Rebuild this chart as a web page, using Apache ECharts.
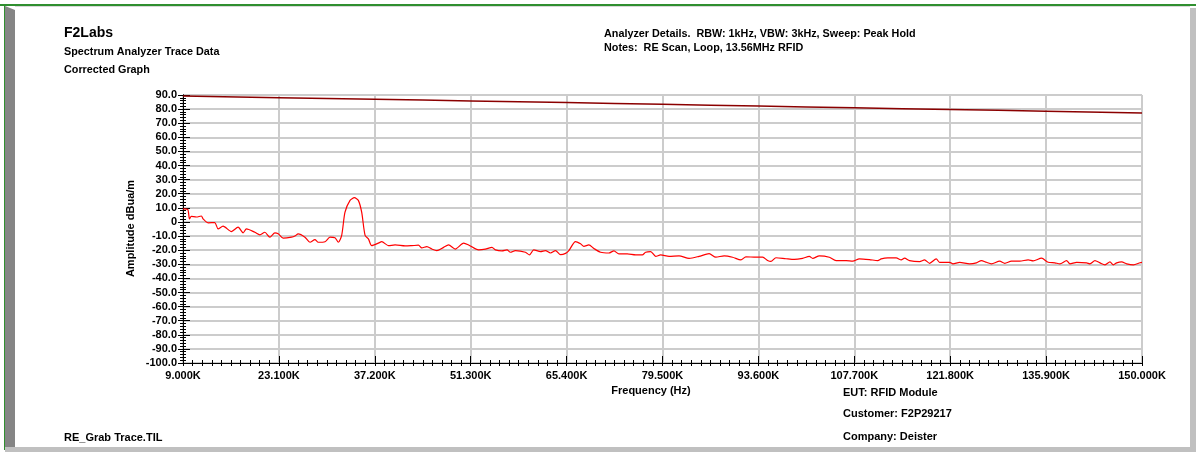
<!DOCTYPE html>
<html>
<head>
<meta charset="utf-8">
<script src="https://cdn.jsdelivr.net/npm/echarts@6/dist/echarts.min.js"></script>
<style>
html,body{margin:0;padding:0;background:#fff;}
#chart{width:1196px;height:452px;}
</style>
</head>
<body>
<div id="chart"></div>
<script>
// ---- Data (frequency in kHz, amplitude in dBuA/m) ----
const traceFreqK = [
  9.00, 9.70, 9.95, 10.23, 10.96, 11.70, 11.95, 12.68, 13.67, 14.16, 14.89, 16.12, 17.10, 17.84, 18.33,
  19.56, 20.30, 21.03, 21.77, 22.51, 23.00, 23.73, 24.96, 25.45, 25.94, 26.93, 27.67, 28.40, 28.89, 29.88,
  30.61, 31.35, 31.84, 32.33, 32.82, 33.56, 34.20, 34.78, 35.27, 35.77, 36.26, 36.75, 37.73, 38.22, 39.21,
  40.19, 41.67, 42.64, 43.62, 44.11, 44.85, 45.59, 46.32, 47.31, 48.04, 49.03, 50.26, 51.00, 52.47, 53.45,
  54.43, 54.93, 55.90, 56.64, 57.14, 57.87, 59.35, 59.94, 60.57, 61.56, 62.29, 63.03, 63.77, 64.51, 65.24,
  65.73, 66.71, 67.45, 67.94, 68.67, 69.41, 70.40, 71.62, 72.36, 73.09, 74.32, 75.55, 76.53, 77.02, 77.76,
  78.50, 79.23, 80.46, 81.93, 83.41, 84.88, 86.36, 87.34, 88.57, 89.80, 91.03, 91.76, 93.24, 94.22, 94.95,
  95.44, 96.18, 97.65, 98.88, 100.10, 101.09, 101.58, 102.56, 104.03, 105.02, 106.49, 107.47, 108.45, 109.93, 111.15,
  111.65, 112.63, 113.86, 114.60, 115.09, 115.82, 117.30, 118.03, 118.77, 119.75, 120.24, 121.72, 122.20, 123.19, 124.66,
  125.65, 126.39, 127.12, 127.86, 129.08, 129.82, 130.81, 132.03, 133.26, 134.00, 135.23, 136.20, 137.19, 137.93, 138.91,
  139.40, 140.39, 141.86, 142.35, 143.08, 143.82, 144.56, 145.29, 145.78, 146.28, 147.01, 147.75, 148.73, 149.71, 150.00
];
const traceAmp = [
  9.2, 8.8, 2.2, 3.9, 3.5, 4.2, 2.2, -0.6, -0.5, -4.9, -3.0, -6.8, -3.7, -7.7, -4.9,
  -7.3, -9.1, -7.3, -10.8, -7.7, -8.4, -11.5, -10.8, -10.0, -8.4, -10.8, -14.4, -12.5, -14.4, -14.0,
  -10.8, -11.2, -14.4, -9.5, 6.9, 15.3, 17.2, 15.3, 6.9, -9.5, -12.0, -16.8, -15.0, -14.0, -16.8,
  -16.3, -17.0, -16.8, -16.5, -18.4, -17.5, -19.2, -20.3, -18.0, -16.3, -19.2, -15.0, -16.3, -19.8, -19.3,
  -18.0, -19.8, -20.5, -19.8, -21.5, -20.3, -21.5, -23.4, -19.8, -21.0, -20.3, -22.0, -20.3, -23.2, -22.3,
  -20.3, -13.9, -15.5, -17.3, -16.3, -18.8, -21.5, -22.0, -20.5, -22.7, -22.7, -23.4, -23.4, -21.5, -21.0,
  -24.4, -23.4, -24.4, -24.0, -25.8, -24.4, -22.5, -25.0, -24.0, -25.0, -26.9, -24.7, -25.0, -25.0, -27.3,
  -28.0, -25.4, -26.1, -26.6, -25.8, -24.4, -25.8, -24.0, -25.0, -27.4, -27.4, -27.8, -26.2, -26.7, -27.4,
  -26.2, -25.5, -25.5, -26.9, -25.7, -27.4, -28.1, -26.9, -29.3, -26.2, -28.6, -28.6, -29.7, -28.6, -29.7,
  -29.0, -27.4, -28.6, -29.7, -27.8, -29.3, -27.8, -27.8, -26.9, -27.6, -25.7, -28.6, -29.0, -29.7, -27.4,
  -29.7, -28.6, -29.0, -29.7, -27.4, -29.0, -30.4, -28.3, -30.4, -29.0, -28.3, -29.7, -30.4, -28.9, -28.6
];
const limitFreqK = [9.0, 23.1, 37.2, 51.3, 65.4, 79.5, 93.6, 107.7, 121.8, 135.9, 150.0];
const limitAmp   = [89.3, 88.1, 87.0, 85.8, 84.6, 83.4, 82.2, 80.9, 79.7, 78.5, 77.3];
const xMin = 9.0, xMax = 150.0, xStep = 14.1;
const yMin = -100, yMax = 90, yStep = 10;

const titleLines = ['F2Labs', 'Spectrum Analyzer Trace Data', 'Corrected Graph'];
const noteLines = ['Analyzer Details.  RBW: 1kHz, VBW: 3kHz, Sweep: Peak Hold', 'Notes:  RE Scan, Loop, 13.56MHz RFID'];
const infoLines = ['EUT: RFID Module', 'Customer: F2P29217', 'Company: Deister'];
const fileName = 'RE_Grab Trace.TIL';
const xName = 'Frequency (Hz)';
const yName = 'Amplitude dBua/m';

// ---- Chart ----
const FONT = '"Liberation Sans", Arial, Helvetica, sans-serif';
const chart = echarts.init(document.getElementById('chart'), null, {renderer: 'canvas'});

const GL = 183, GT = 95, GW = 959, GH = 268;

function txt(x, y, s, size, align) {
  return {
    type: 'text', x: x, y: y, z: 10,
    style: {text: s, fontFamily: FONT, fontWeight: 'bold', fontSize: size, fill: '#000',
            textVerticalAlign: 'middle', textAlign: align || 'left'}
  };
}

const baseX = {
  type: 'value', min: xMin, max: xMax, interval: xStep,
  axisLine: {show: true, onZero: false, lineStyle: {color: '#000', width: 1}},
  splitLine: {show: false}, minorSplitLine: {show: false}
};
const baseY = {
  type: 'value', min: yMin, max: yMax, interval: yStep,
  axisLine: {show: true, onZero: false, lineStyle: {color: '#000', width: 1}},
  splitLine: {show: false}, minorSplitLine: {show: false}
};

const option = {
  backgroundColor: '#fff',
  animation: false,
  grid: {left: GL, top: GT, width: GW, height: GH, containLabel: false},
  xAxis: [
    Object.assign({}, baseX, {
      position: 'bottom',
      axisTick: {show: true, inside: false, length: 3, lineStyle: {color: '#000'}},
      minorTick: {show: true, splitNumber: 10, length: 3, lineStyle: {color: '#000'}},
      axisLabel: {show: true, margin: 7, color: '#000', fontFamily: FONT, fontWeight: 'bold', fontSize: 11,
        formatter: v => v.toFixed(3) + 'K'},
      splitLine: {show: true, lineStyle: {color: '#cccccc', width: 2}}
    }),
    Object.assign({}, baseX, {
      position: 'bottom',
      axisTick: {show: true, inside: true, length: 7, lineStyle: {color: '#000'}},
      minorTick: {show: true, splitNumber: 10, length: 3, lineStyle: {color: '#000'}},
      axisLabel: {show: false}
    })
  ],
  yAxis: [
    Object.assign({}, baseY, {
      position: 'left',
      axisTick: {show: true, inside: false, length: 5, lineStyle: {color: '#000'}},
      minorTick: {show: true, splitNumber: 5, length: 3, lineStyle: {color: '#000'}},
      axisLabel: {show: true, margin: 6, color: '#000', fontFamily: FONT, fontWeight: 'bold', fontSize: 11,
        formatter: v => v === 0 ? '0' : v.toFixed(1)},
      splitLine: {show: true, lineStyle: {color: '#cccccc', width: 2}}
    }),
    Object.assign({}, baseY, {
      position: 'left',
      axisTick: {show: true, inside: true, length: 7, lineStyle: {color: '#000'}},
      minorTick: {show: true, splitNumber: 5, length: 3, lineStyle: {color: '#000'}},
      axisLabel: {show: false}
    })
  ],
  series: [
    {
      type: 'line', xAxisIndex: 0, yAxisIndex: 0, showSymbol: false, smooth: 0.3,
      data: limitFreqK.map((f, i) => [f, limitAmp[i]]),
      lineStyle: {color: '#8b0000', width: 1.5}, z: 5
    },
    {
      type: 'line', xAxisIndex: 0, yAxisIndex: 0, showSymbol: false, smooth: 0.25,
      data: traceFreqK.map((f, i) => [f, traceAmp[i]]),
      lineStyle: {color: '#ff0000', width: 1.2}, z: 6
    }
  ],
  graphic: [
    // frame
    {type: 'rect', shape: {x: 0, y: 4, width: 1196, height: 2}, style: {fill: '#2f8f2f'}, z: 1},
    {type: 'rect', shape: {x: 4, y: 4, width: 1, height: 446}, style: {fill: '#2f8f2f'}, z: 1},
    {type: 'polygon', shape: {points: [[5, 6], [15, 10], [15, 447], [5, 452]]}, style: {fill: '#858585'}, z: 1},
    {type: 'rect', shape: {x: 1190, y: 8, width: 6, height: 444}, style: {fill: '#c0c0c0'}, z: 1},
    {type: 'rect', shape: {x: 5, y: 447, width: 1191, height: 5}, style: {fill: '#c0c0c0'}, z: 1},
    {type: 'rect', shape: {x: 15, y: 6, width: 1175, height: 1}, style: {fill: '#d8d8d8'}, z: 1},
    // texts
    txt(64, 33, titleLines[0], 14),
    txt(64, 52, titleLines[1], 10.8),
    txt(64, 70, titleLines[2], 10.8),
    txt(604, 34, noteLines[0], 10.8),
    txt(604, 48, noteLines[1], 10.8),
    txt(843, 393, infoLines[0], 11),
    txt(843, 414, infoLines[1], 11),
    txt(843, 437, infoLines[2], 11),
    txt(64, 438, fileName, 11),
    txt(651, 391, xName, 11, 'center'),
    {type: 'text', x: 131, y: 228.5, rotation: Math.PI / 2, z: 10,
     style: {text: yName, fontFamily: FONT, fontWeight: 'bold', fontSize: 11, fill: '#000', textAlign: 'center', textVerticalAlign: 'middle'}}
  ]
};
chart.setOption(option);
</script>
</body>
</html>
